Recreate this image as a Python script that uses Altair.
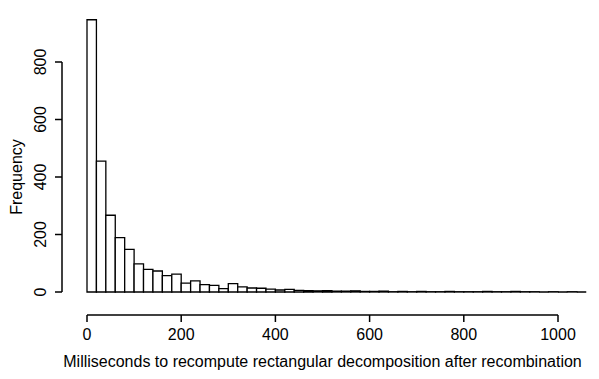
import altair as alt
import pandas as pd

bin_width = 20
counts = [947, 455, 267, 189, 148, 98, 79, 73, 57, 62,
          31, 39, 26, 23, 12, 29, 18, 14, 13, 10,
          7, 9, 6, 5, 4, 5, 3, 3, 4, 2,
          2, 3, 1, 2, 1, 2, 1, 1, 2, 1,
          1, 1, 2, 1, 1, 2, 1, 1, 0, 1,
          0, 1, 0]
x_ticks = [0, 200, 400, 600, 800, 1000]
y_ticks = [0, 200, 400, 600, 800]
x_title = "Milliseconds to recompute rectangular decomposition after recombination"
y_title = "Frequency"

df = pd.DataFrame({
    "start": [i * bin_width for i in range(len(counts))],
    "end": [(i + 1) * bin_width for i in range(len(counts))],
    "count": counts,
})

FONT = "Liberation Sans"
FS = 16
W, H = 481, 240
XOFF, YOFF, TICK, LW = 18, 20, 7, 1.5

xscale = alt.Scale(domain=[0, 1000], nice=False, zero=False)
yscale = alt.Scale(domain=[0, 800], nice=False)

bars = alt.Chart(df).mark_rect(
    fill="white", stroke="black", strokeWidth=1.3, clip=False
).encode(
    x=alt.X("start:Q", scale=xscale, axis=None),
    x2="end:Q",
    y=alt.Y("count:Q", scale=yscale, axis=None),
    y2=alt.datum(0),
)

xpts = pd.DataFrame({"xv": [x_ticks[0], x_ticks[-1]]})
ypts = pd.DataFrame({"yv": [y_ticks[0], y_ticks[-1]]})
xt = pd.DataFrame({"v": x_ticks, "lbl": [str(v) for v in x_ticks]})
yt = pd.DataFrame({"v": y_ticks, "lbl": [str(v) for v in y_ticks]})

# axis lines as paths
x_line = alt.Chart(xpts).mark_line(color="black", strokeWidth=LW, clip=False).encode(
    x=alt.X("xv:Q", scale=xscale, axis=None), y=alt.value(H + XOFF))
y_line = alt.Chart(ypts).mark_line(color="black", strokeWidth=LW, clip=False).encode(
    y=alt.Y("yv:Q", scale=yscale, axis=None), x=alt.value(-YOFF), order="yv:Q")

# tick marks as hollow-less rect bars (paths)
x_tk = alt.Chart(xt).mark_bar(color="black", size=LW, clip=False).encode(
    x=alt.X("v:Q", scale=xscale, axis=None),
    y=alt.value(H + XOFF), y2=alt.value(H + XOFF + TICK))
y_tk = alt.Chart(yt).mark_bar(color="black", size=LW, clip=False, orient="horizontal").encode(
    y=alt.Y("v:Q", scale=yscale, axis=None),
    x=alt.value(-YOFF - TICK), x2=alt.value(-YOFF))

x_lbl = alt.Chart(xt).mark_text(
    font=FONT, fontSize=FS, color="black", align="center", baseline="top").encode(
    x=alt.X("v:Q", scale=xscale, axis=None),
    y=alt.value(H + XOFF + TICK + 5), text="lbl:N")
x_ttl = alt.Chart(pd.DataFrame({"t": [x_title]})).mark_text(
    font=FONT, fontSize=FS, color="black", align="center", baseline="top").encode(
    x=alt.value(W / 2), y=alt.value(H + XOFF + TICK + 5 + FS + 11), text="t:N")
y_lbl = alt.Chart(yt).mark_text(
    font=FONT, fontSize=FS, color="black", align="center", baseline="bottom",
    angle=270).encode(
    y=alt.Y("v:Q", scale=yscale, axis=None),
    x=alt.value(-YOFF - TICK - 6), text="lbl:N")
y_ttl = alt.Chart(pd.DataFrame({"t": [y_title]})).mark_text(
    font=FONT, fontSize=FS, color="black", align="center", baseline="middle",
    angle=270).encode(
    x=alt.value(-65), y=alt.value(H / 2), text="t:N")

chart = alt.layer(bars, x_line, y_line, x_tk, y_tk,
                  x_lbl, x_ttl, y_lbl, y_ttl).properties(
    width=W, height=H,
    padding={"left": 74, "top": 49, "right": 28, "bottom": 74},
    autosize=alt.AutoSizeParams(type="none"),
    background="white",
).configure_view(strokeWidth=0, stroke=None)

chart.save("out.html", embed_options={"renderer": "svg", "actions": False})
